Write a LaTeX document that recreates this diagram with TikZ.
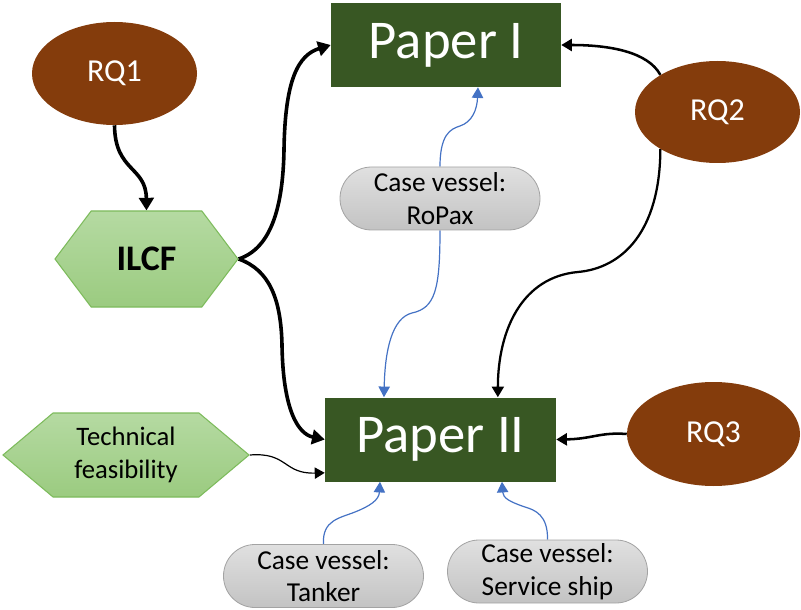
\documentclass[tikz,border=0pt]{standalone}
\usepackage{fontspec}
\setmainfont{Carlito}
\usetikzlibrary{arrows.meta,shapes.geometric,shapes.symbols,shapes.misc,backgrounds}
\definecolor{brownrq}{HTML}{843C0C}
\definecolor{papergreen}{HTML}{385723}
\definecolor{hexTop}{HTML}{B5DAA2}
\definecolor{hexBot}{HTML}{9BCB80}
\definecolor{hexBorder}{HTML}{7DBB5C}
\definecolor{pillTop}{HTML}{E0E0E0}
\definecolor{pillBot}{HTML}{C3C3C3}
\definecolor{pillBorder}{HTML}{A3A3A3}
\definecolor{blueline}{HTML}{4472C4}
\begin{document}
\begin{tikzpicture}[x=0.75pt,y=-0.75pt,
  rq/.style={ellipse, fill=brownrq, text=white, inner sep=0pt, font=\fontsize{24}{28}\selectfont},
  paper/.style={rectangle, fill=papergreen, text=white, inner sep=0pt, minimum height=63pt, font=\fontsize{41}{48}\selectfont},
  hexa/.style={signal, signal to=east and west, top color=hexTop, bottom color=hexBot, draw=hexBorder, line width=0.8pt, inner sep=0pt, align=center},
  pill/.style={rounded rectangle, top color=pillTop, bottom color=pillBot, draw=pillBorder, line width=0.6pt, minimum width=150pt, minimum height=47.25pt, inner sep=0pt, align=center, font=\fontsize{20.5}{24.5}\selectfont},
  heavy/.style={line width=2.7pt, -{Triangle[width=11pt,length=9.5pt]}},
  medium/.style={line width=1.9pt, -{Triangle[width=9pt,length=8pt]}},
  light/.style={line width=0.9pt, -{Triangle[width=8.5pt,length=7.5pt]}},
  bluearrow/.style={blueline, line width=0.9pt, -{Triangle[width=8.5pt,length=8pt]}}
]
\useasboundingbox (0,0) rectangle (801,610);
% nodes
\node[paper, minimum width=172.5pt] (p1) at (446,45) {Paper I};
\node[paper, minimum width=173.25pt] (p2) at (440.5,439.5) {Paper II};
\node[rq, minimum width=123.75pt, minimum height=77.25pt] (rq1) at (114.5,73.5) {RQ1};
\node[rq, minimum width=123.75pt, minimum height=76.5pt] (rq2) at (717.5,112) {RQ2};
\node[rq, minimum width=129.75pt, minimum height=78pt] (rq3) at (713.5,434) {RQ3};
\node[hexa, signal pointer angle=106, minimum width=137.25pt, minimum height=72pt, font=\fontsize{27}{32}\selectfont\bfseries] (ilcf) at (146.5,259) {ILCF};
\node[hexa, signal pointer angle=80, minimum width=184.5pt, minimum height=63pt, font=\fontsize{20}{24.75}\selectfont] (tf) at (126,455) {Technical\\feasibility};
\node[pill] (rp) at (440,198.5) {Case vessel:\\RoPax};
\node[pill] (tk) at (323.5,576) {Case vessel:\\Tanker};
\node[pill] (ss) at (547.5,571.5) {Case vessel:\\Service ship};
% connectors
\begin{pgfonlayer}{background}
\draw[heavy] (rq1.south) .. controls (115,172) and (146,166) .. (ilcf.north);
\draw[heavy] (ilcf.east) .. controls (272,248) and (283,205) .. (284,150) .. controls (285,80) and (298,55) .. (p1.west);
\draw[heavy] (ilcf.east) .. controls (270,270) and (281,300) .. (282,345) .. controls (283,410) and (298,434) .. (p2.west);
\draw[light] (tf.east) .. controls (288,452) and (283,474) .. ([yshift=-25pt]p2.west);
\draw[medium] (rq2.147) .. controls (648,52) and (610,45) .. (p1.east);
\draw[medium, line width=1.7pt] (rq2.213) .. controls (660,232) and (622,268) .. (578,272) .. controls (522,277) and (498,330) .. ([xshift=43pt]p2.north);
\draw[medium] (rq3.west) .. controls (600,432) and (592,439) .. (p2.east);
\draw[bluearrow] (rp.north) .. controls (440,135) and (450,129) .. (460,126) .. controls (472,122) and (477,110) .. ([xshift=24pt]p1.south);
\draw[bluearrow] (rp.south) .. controls (440,290) and (435,308) .. (412,313) .. controls (392,318) and (385,350) .. ([xshift=-42.4pt]p2.north);
\draw[bluearrow] (tk.north) .. controls (322,520) and (340,518) .. (355,512) .. controls (370,506) and (379,500) .. ([xshift=-45.4pt]p2.south);
\draw[bluearrow] (ss.north) .. controls (548,515) and (535,510) .. (525,507) .. controls (510,502) and (503,498) .. ([xshift=46.1pt]p2.south);
\end{pgfonlayer}
\end{tikzpicture}
\end{document}
